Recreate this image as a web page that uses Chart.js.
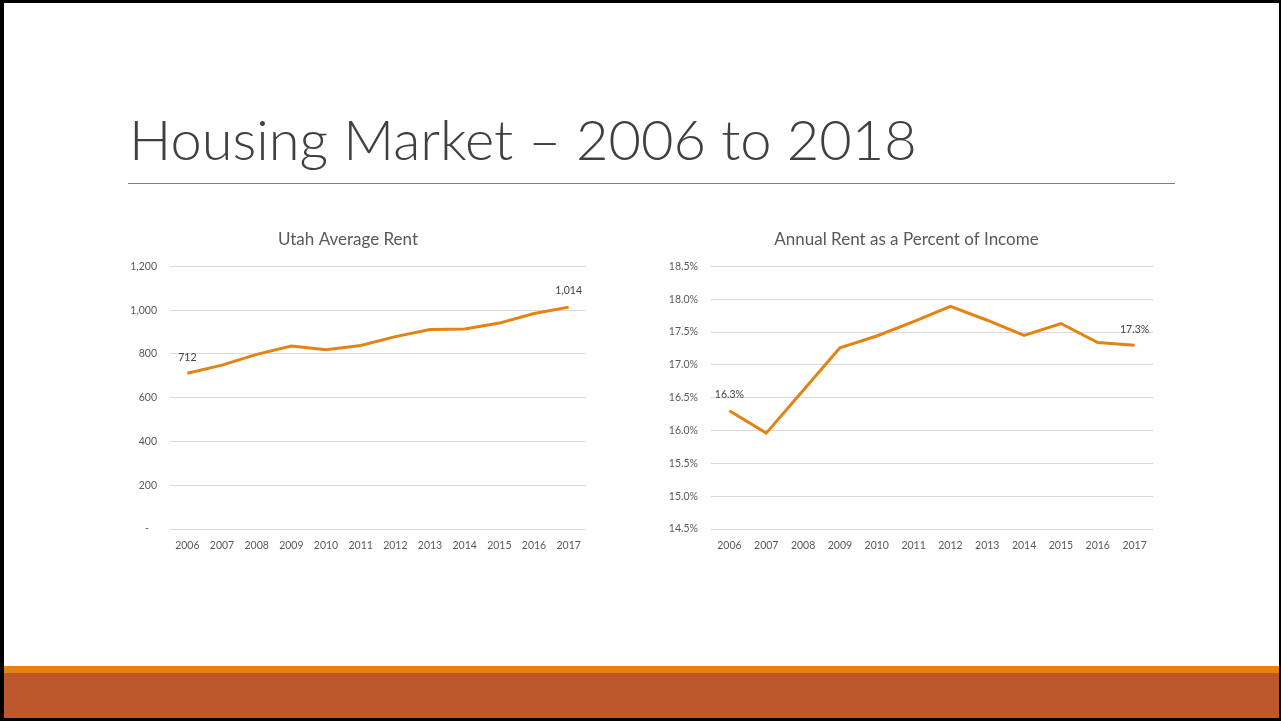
<!DOCTYPE html>
<html>
<head>
<meta charset="utf-8">
<script src="https://cdn.jsdelivr.net/npm/chart.js@4/dist/chart.umd.min.js"></script>
<style>
  html, body { margin: 0; padding: 0; background: #000; }
  body { width: 1281px; height: 721px; position: relative; overflow: hidden; }
  #slide { position: absolute; left: 4px; top: 3px; width: 1275px; height: 715px; background: #fff; }
  #title {
    position: absolute; left: 125px; top: 108px; margin: 0;
    font-family: Lato, sans-serif; font-weight: 300; font-size: 56px;
    color: #404040; white-space: nowrap; line-height: 1;
  }
  #rule { position: absolute; left: 124px; top: 180px; width: 1047px; height: 1px; background: #7f7f7f; }
  #stripe { position: absolute; left: 0; top: 663px; width: 1275px; height: 7px; background: #E48312; }
  #band { position: absolute; left: 0; top: 670px; width: 1275px; height: 45px; background: #BD582C; }
  .box { position: absolute; }
  #rentBox { left: 110px; top: 225px; width: 490px; height: 330px; }
  #pctBox { left: 660px; top: 225px; width: 500px; height: 330px; }
</style>
</head>
<body>
<div id="slide">
  <h1 id="title">Housing Market – 2006 to 2018</h1>
  <div id="rule"></div>
  <div id="stripe"></div>
  <div id="band"></div>
</div>
<div class="box" id="rentBox"><canvas id="rentChart" width="490" height="330"></canvas></div>
<div class="box" id="pctBox"><canvas id="pctChart" width="500" height="330"></canvas></div>

<script>
// data
const years = ['2006', '2007', '2008', '2009', '2010', '2011', '2012', '2013', '2014', '2015', '2016', '2017'];
const avgRent = [712, 749, 798, 836, 819, 839, 879, 912, 914, 941, 985, 1014];
const rentPctIncome = [16.30, 15.96, 16.61, 17.26, 17.44, 17.66, 17.89, 17.68, 17.45, 17.63, 17.34, 17.30];
const labeledPoints = [0, 11];  // only first and last points carry a value label

const lineColor = '#E48312';
const gridColor = '#d9d9d9';
const textColor = '#595959';
const font = 'Lato, sans-serif';

const fmtRent = v => v === 0 ? '-   ' : v.toLocaleString('en-US');
const fmtPct = v => v.toFixed(1) + '%';

// draws the value label above the selected points
const pointLabels = {
    id: 'pointLabels',
    afterDatasetsDraw: function (chart, args, opts) {
        const ctx = chart.ctx;
        const meta = chart.getDatasetMeta(0);
        const data = chart.data.datasets[0].data;
        ctx.save();
        ctx.font = '10.5px ' + font;
        ctx.fillStyle = '#404040';
        ctx.textAlign = 'center';
        ctx.textBaseline = 'middle';
        for (let i = 0; i < labeledPoints.length; i++) {
            let idx = labeledPoints[i];
            let pt = meta.data[idx];
            ctx.fillText(opts.format(data[idx]), pt.x, pt.y - 16);
        }
        ctx.restore();
    }
};

function makeChart(id, title, values, yMin, yMax, step, fmt, yWidth, rightPad) {
    return new Chart(document.getElementById(id).getContext('2d'), {
        type: 'line',
        data: {
            labels: years,
            datasets: [{
                data: values,
                borderColor: lineColor,
                borderWidth: 3,
                pointRadius: 0,
                tension: 0,
                fill: false
            }]
        },
        options: {
            responsive: false,
            animation: false,
            layout: { padding: { top: 0, right: rightPad, bottom: 0, left: 0 } },
            plugins: {
                legend: { display: false },
                tooltip: { enabled: false },
                title: {
                    display: true,
                    text: title,
                    color: textColor,
                    font: { family: font, size: 17, weight: 'normal' },
                    padding: { top: 4, bottom: 17 }
                },
                pointLabels: { format: fmt }
            },
            scales: {
                x: {
                    offset: true,
                    grid: { display: false },
                    border: { display: false },
                    ticks: { color: textColor, font: { family: font, size: 10.5 }, padding: 2, maxRotation: 0 },
                    afterFit: s => { s.height = 26; }
                },
                y: {
                    min: yMin,
                    max: yMax,
                    grid: { color: gridColor, lineWidth: 1, drawTicks: false },
                    border: { display: false },
                    ticks: { stepSize: step, color: textColor, font: { family: font, size: 10.5 }, padding: 13, callback: fmt },
                    afterFit: s => { s.width = yWidth; }
                }
            }
        },
        plugins: [pointLabels]
    });
}

makeChart('rentChart', 'Utah Average Rent', avgRent, 0, 1200, 200, fmtRent, 60, 14);
makeChart('pctChart', 'Annual Rent as a Percent of Income', rentPctIncome, 14.5, 18.5, 0.5, fmtPct, 51, 7);
</script>
</body>
</html>
